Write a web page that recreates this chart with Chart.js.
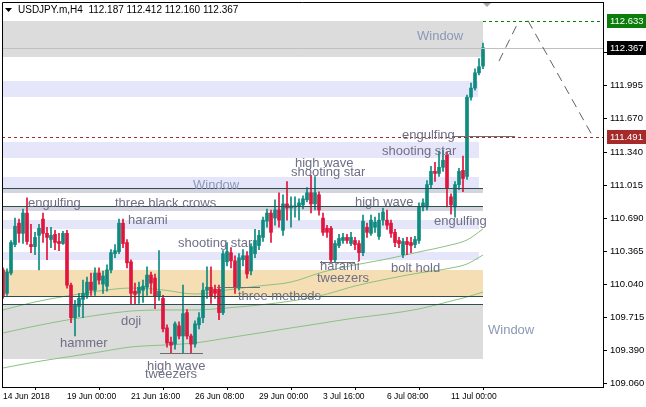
<!DOCTYPE html>
<html>
<head>
<meta charset="utf-8">
<script src="https://cdn.jsdelivr.net/npm/chart.js@4.4.1/dist/chart.umd.min.js"></script>
<style>
  html, body { margin: 0; padding: 0; background: #fff; overflow: hidden; }
  canvas { display: block; }
</style>
</head>
<body>
<canvas id="chart" width="646" height="407"></canvas>
<script>
// USDJPY.m H4 candles, index 0 = 14 Jun 2018
var opens = [110.18,109.95,110.15,110.43,110.64,110.54,110.74,110.43,110.41,110.52,
  110.68,110.54,110.48,110.53,110.46,110.44,110.54,110.03,109.71,109.82,
  109.89,109.93,110.06,109.98,110.15,110.04,110.02,110.18,110.34,110.36,
  110.64,110.45,110.26,109.97,109.95,109.98,110.01,110.13,110.10,109.92,
  109.90,109.61,109.47,109.45,109.63,109.53,109.76,109.53,109.45,109.64,
  109.71,109.98,110.01,109.99,109.99,109.76,110.26,110.35,110.27,110.01,
  110.28,110.32,110.17,110.34,110.42,110.50,110.66,110.74,110.69,110.77,
  110.57,110.83,110.79,110.80,110.81,110.82,110.87,110.94,110.83,110.92,
  110.69,110.59,110.59,110.28,110.42,110.47,110.50,110.44,110.47,110.44,
  110.35,110.60,110.54,110.60,110.51,110.67,110.67,110.64,110.55,110.47,
  110.33,110.46,110.45,110.43,110.47,110.80,110.80,111.02,111.15,111.13,
  111.19,111.31,110.90,110.80,111.02,111.16,111.10,111.88,111.97,112.12,
  112.187];
var highs = [110.20,110.19,110.47,110.69,110.68,110.78,110.89,110.63,110.55,110.63,
  110.74,110.60,110.60,110.57,110.54,110.56,110.57,110.05,109.88,109.95,
  110.08,110.11,110.15,110.20,110.20,110.17,110.23,110.38,110.43,110.68,
  110.68,110.48,110.28,110.05,110.06,110.08,110.21,110.16,110.14,110.37,
  109.93,109.64,109.52,109.67,109.67,110.03,109.79,109.55,109.68,109.76,
  110.05,110.21,110.21,110.03,110.03,110.37,110.45,110.40,110.32,110.34,
  110.38,110.36,110.44,110.58,110.57,110.70,110.78,110.77,110.87,110.94,
  110.92,111.05,110.90,110.90,110.88,110.91,110.99,111.11,111.10,110.95,
  110.74,110.62,110.61,110.47,110.53,110.54,110.53,110.55,110.50,110.47,
  110.72,110.64,110.72,110.70,110.74,110.79,110.77,110.67,110.58,110.50,
  110.49,110.50,110.50,110.51,110.84,110.88,111.06,111.20,111.24,111.35,
  111.36,111.34,110.93,111.05,111.18,111.30,111.90,112.02,112.16,112.26,
  112.412];
var lows = [109.90,109.93,110.13,110.41,110.45,110.44,110.43,110.35,110.33,110.18,
  110.45,110.28,110.40,110.38,110.37,110.43,110.00,109.66,109.53,109.72,
  109.71,109.90,109.93,109.93,110.04,109.95,109.97,110.15,110.30,110.34,
  110.40,110.20,109.84,109.84,109.85,109.86,109.93,109.95,109.80,109.88,
  109.57,109.42,109.36,109.40,109.50,109.36,109.50,109.36,109.42,109.60,
  109.66,109.90,109.85,109.90,109.69,109.74,110.22,110.20,109.95,109.98,
  110.22,110.10,110.13,110.30,110.38,110.46,110.60,110.45,110.62,110.60,
  110.52,110.67,110.60,110.70,110.67,110.78,110.85,110.74,110.77,110.72,
  110.52,110.50,110.26,110.26,110.40,110.44,110.44,110.42,110.38,110.27,
  110.32,110.50,110.52,110.55,110.48,110.62,110.58,110.50,110.41,110.40,
  110.30,110.33,110.35,110.40,110.44,110.76,110.77,110.99,111.05,111.10,
  111.15,110.80,110.73,110.70,110.97,110.95,111.07,111.85,111.95,112.10,
  112.160];
var closes = [109.93,110.16,110.45,110.61,110.54,110.74,110.46,110.41,110.50,110.59,
  110.54,110.50,110.52,110.45,110.44,110.54,110.03,109.71,109.83,109.90,
  109.95,110.06,109.98,110.15,110.08,110.12,110.18,110.35,110.37,110.64,
  110.44,110.25,109.95,109.94,110.01,110.02,110.13,110.05,109.92,109.97,
  109.60,109.46,109.44,109.65,109.53,109.75,109.53,109.45,109.65,109.71,
  109.98,110.01,109.92,109.95,109.76,110.34,110.36,110.27,110.01,110.30,
  110.32,110.14,110.41,110.47,110.52,110.67,110.74,110.55,110.77,110.67,
  110.83,110.79,110.81,110.81,110.84,110.88,110.94,110.83,110.94,110.77,
  110.55,110.55,110.28,110.44,110.49,110.50,110.47,110.50,110.43,110.35,
  110.66,110.55,110.67,110.65,110.67,110.75,110.62,110.54,110.45,110.44,
  110.46,110.43,110.42,110.48,110.80,110.84,111.02,111.15,111.13,111.19,
  111.26,110.99,110.82,111.02,111.15,111.08,111.88,111.97,112.12,112.18,
  112.367];

// moving averages, read at these candle indexes
var maIdx  = [0, 8, 16, 24, 32, 40, 48, 56, 64, 72, 80, 88, 96, 104, 112, 116, 120];
var maFast = [109.786,109.865,109.924,109.973,110.002,109.983,109.943,109.983,110.022,110.061,
  110.160,110.229,110.288,110.357,110.426,110.475,110.583];
var maMid  = [109.559,109.628,109.687,109.737,109.776,109.786,109.786,109.806,109.835,109.874,
  109.933,110.022,110.091,110.150,110.199,110.239,110.327];
var maSlow = [109.215,109.274,109.323,109.372,109.422,109.441,109.461,109.510,109.559,109.609,
  109.658,109.707,109.746,109.796,109.874,109.914,109.963];

var priceTicks = [109.060,109.390,109.715,110.040,110.365,110.690,111.015,111.340,111.670,111.995,112.320];
var dateIdx    = [0, 16, 32, 48, 64, 80, 96, 112];
var dateLabels = ['14 Jun 2018','19 Jun 00:00','21 Jun 16:00','26 Jun 08:00','29 Jun 00:00','3 Jul 16:00','6 Jul 08:00','11 Jul 00:00'];

// zones: kind, upper price, lower price, last index
var zones = [
  ['window', 112.633, 112.279, 120],
  ['lav', 112.040, 111.882, 118.8],
  ['lav', 111.439, 111.282, 119],
  ['lav', 111.095, 110.937, 119],
  ['gap', 110.984, 110.934, 120],
  ['gap', 110.810, 110.760, 120],
  ['lav', 110.672, 110.583, 119],
  ['lav', 110.357, 110.278, 119],
  ['orange', 110.180, 109.924, 120],
  ['window', 109.845, 109.304, 120]
];
var supportLines = [110.984, 110.810, 109.924, 109.845];
var bidPrice = 112.367, highLevel = 112.633, lowLevel = 111.491;

// pattern names: text, start index, price
var patterns = [
  ['engulfing', 6.25, 110.839], ['three black crows', 28, 110.839], ['harami', 31.25, 110.672],
  ['shooting star', 43.75, 110.445], ['three methods', 58.75, 109.924], ['hammer', 14.25, 109.461],
  ['doji', 29.5, 109.677], ['high wave', 36, 109.235], ['tweezers', 35.5, 109.156],
  ['harami', 79.25, 110.219], ['tweezers', 78.5, 110.101], ['bolt hold', 97, 110.199],
  ['high wave', 73, 111.233], ['shooting star', 72, 111.144], ['high wave', 88, 110.849],
  ['engulfing', 107.75, 110.662], ['shooting star', 94.75, 111.351], ['engulfing', 99.75, 111.508]
];
var windows = [['Window', 103.5, 112.483], ['Window', 47.5, 111.016], ['Window', 121.25, 109.589]];
// pattern marker lines: from index, to index, price
var markers = [[39.25, 50, 109.363], [53.5, 64.25, 110.012], [79.25, 88, 110.258], [112.25, 128, 111.498]];
// projected path
var projection = [[124, 112.236], [129, 112.633], null, [131.25, 112.633], [147.5, 111.49]];

var UP = '#0e8a80', DOWN = '#e0143c';
var bodies = [], wicks = [], colors = [];
for (var i = 0; i < opens.length; i++) {
  bodies.push({ x: i, y: [opens[i], closes[i]] });
  wicks.push({ x: i, y: [lows[i], highs[i]] });
  colors.push(closes[i] >= opens[i] ? UP : DOWN);
}
function maPoints(arr) { return maIdx.map(function (v, k) { return { x: v, y: arr[k] }; }); }

var axisFont = "'Liberation Sans', Arial, sans-serif";
var zoneColor = { window: '#dcdcdc', lav: '#e6e6fa', gap: '#d4d4e0', orange: '#f5deb3' };

var deco = {
  id: 'deco',
  beforeDatasetsDraw: function (chart) {
    var ctx = chart.ctx, a = chart.chartArea, x = chart.scales.x, y = chart.scales.y;
    ctx.save();
    ctx.beginPath(); ctx.rect(a.left, a.top, a.right - a.left, a.bottom - a.top); ctx.clip();
    zones.forEach(function (z) {
      var y0 = y.getPixelForValue(z[1]), y1 = y.getPixelForValue(z[2]);
      var x1 = x.getPixelForValue(z[3]);
      ctx.fillStyle = zoneColor[z[0]];
      ctx.fillRect(a.left, Math.round(y0), x1 - a.left, Math.round(y1) - Math.round(y0));
    });
    ctx.restore();
  },
  afterDatasetsDraw: function (chart) {
    var ctx = chart.ctx, a = chart.chartArea, x = chart.scales.x, y = chart.scales.y;
    var py = function (v) { return Math.round(y.getPixelForValue(v)) + 0.5; };
    ctx.save();
    ctx.beginPath(); ctx.rect(a.left, a.top, a.right - a.left, a.bottom - a.top); ctx.clip();
    ctx.lineWidth = 1;

    // current bid line
    ctx.strokeStyle = '#c0c0c0';
    ctx.beginPath(); ctx.moveTo(a.left, py(bidPrice)); ctx.lineTo(a.right, py(bidPrice)); ctx.stroke();

    // support lines
    ctx.strokeStyle = '#2f4f4f';
    supportLines.forEach(function (v) {
      ctx.beginPath(); ctx.moveTo(a.left, py(v)); ctx.lineTo(x.getPixelForValue(120), py(v)); ctx.stroke();
    });

    // marker lines
    ctx.strokeStyle = '#6e6e6e';
    markers.forEach(function (m) {
      ctx.beginPath(); ctx.moveTo(x.getPixelForValue(m[0]), py(m[2])); ctx.lineTo(x.getPixelForValue(m[1]), py(m[2])); ctx.stroke();
    });

    // dashed levels
    ctx.setLineDash([3, 3]);
    ctx.strokeStyle = '#a52a2a';
    ctx.beginPath(); ctx.moveTo(a.left, py(lowLevel)); ctx.lineTo(a.right, py(lowLevel)); ctx.stroke();
    ctx.strokeStyle = '#008000';
    ctx.beginPath(); ctx.moveTo(x.getPixelForValue(120), py(highLevel)); ctx.lineTo(a.right, py(highLevel)); ctx.stroke();

    // projection
    ctx.setLineDash([9, 6]);
    ctx.strokeStyle = '#606060';
    ctx.beginPath();
    var pen = false;
    projection.forEach(function (p) {
      if (!p) { pen = false; return; }
      var px = x.getPixelForValue(p[0]), pyv = y.getPixelForValue(p[1]);
      if (pen) ctx.lineTo(px, pyv); else ctx.moveTo(px, pyv);
      pen = true;
    });
    ctx.stroke();
    ctx.setLineDash([]);

    // texts
    ctx.textBaseline = 'middle';
    ctx.textAlign = 'left';
    ctx.font = "13px 'Liberation Sans', Arial, sans-serif";
    ctx.fillStyle = '#6f6f86';
    patterns.forEach(function (p) {
      ctx.fillText(p[0], x.getPixelForValue(p[1]), y.getPixelForValue(p[2]));
    });
    ctx.fillStyle = '#8a9ab6';
    windows.forEach(function (p) {
      ctx.fillText(p[0], x.getPixelForValue(p[1]), y.getPixelForValue(p[2]));
    });
    ctx.restore();

    // frame
    ctx.save();
    ctx.strokeStyle = '#000';
    ctx.lineWidth = 1;
    ctx.beginPath();
    ctx.moveTo(a.left + 0.5, a.bottom); ctx.lineTo(a.left + 0.5, a.top + 0.5); ctx.lineTo(a.right, a.top + 0.5);
    ctx.stroke();

    // title
    ctx.fillStyle = '#000';
    ctx.beginPath(); ctx.moveTo(5, 8); ctx.lineTo(12, 8); ctx.lineTo(8.5, 12); ctx.closePath(); ctx.fill();
    ctx.font = "10px " + axisFont;
    ctx.textBaseline = 'middle';
    ctx.textAlign = 'left';
    ctx.fillText('USDJPY.m,H4  ' + opens[120].toFixed(3) + ' ' + highs[120].toFixed(3) + ' ' +
      lows[120].toFixed(3) + ' ' + closes[120].toFixed(3), 18, 10.5);

    // shift marker
    ctx.fillStyle = '#a8a8a8';
    var sx = x.getPixelForValue(121);
    ctx.beginPath(); ctx.moveTo(sx - 4, 3); ctx.lineTo(sx + 4, 3); ctx.lineTo(sx, 7); ctx.closePath(); ctx.fill();

    // price boxes on the axis
    var boxes = [[highLevel, '#0a7d0a', '#fff'], [bidPrice, '#000', '#fff'], [lowLevel, '#a52a2a', '#fff']];
    ctx.font = "9.5px " + axisFont;
    boxes.forEach(function (b) {
      var cy = Math.round(y.getPixelForValue(b[0]));
      ctx.fillStyle = b[1];
      ctx.fillRect(a.right + 4, cy - 7, 39, 14);
      ctx.fillStyle = b[2];
      ctx.fillText(b[0].toFixed(3), a.right + 7, cy + 0.5);
    });
    ctx.restore();
  }
};

new Chart(document.getElementById('chart'), {
  data: {
    datasets: [
      { type: 'bar', data: bodies, backgroundColor: colors, barThickness: 3, minBarLength: 1, grouped: false, order: 0 },
      { type: 'bar', data: wicks, backgroundColor: colors, barThickness: 1, grouped: false, order: 1 },
      { type: 'line', data: maPoints(maFast), borderColor: '#8cc283', borderWidth: 1, pointRadius: 0, cubicInterpolationMode: 'monotone', order: 2 },
      { type: 'line', data: maPoints(maMid), borderColor: '#8cc283', borderWidth: 1, pointRadius: 0, cubicInterpolationMode: 'monotone', order: 2 },
      { type: 'line', data: maPoints(maSlow), borderColor: '#8cc283', borderWidth: 1, pointRadius: 0, cubicInterpolationMode: 'monotone', order: 2 }
    ]
  },
  options: {
    responsive: false,
    animation: false,
    events: [],
    layout: { padding: { left: 2, top: 2, right: 0, bottom: 0 } },
    plugins: { legend: { display: false }, tooltip: { enabled: false } },
    scales: {
      x: {
        type: 'linear', min: -0.25, max: 150, offset: false,
        afterFit: function (s) { s.height = 20; s.paddingLeft = 0; s.paddingRight = 0; },
        afterBuildTicks: function (s) { s.ticks = dateIdx.map(function (v) { return { value: v }; }); },
        ticks: {
          callback: function (v, k) { return dateLabels[k]; },
          align: 'start', maxRotation: 0, autoSkip: false, padding: 2, color: '#000',
          font: { family: axisFont, size: 8.5 }
        },
        grid: { drawOnChartArea: false, tickLength: 3, color: '#000' },
        border: { color: '#000' }
      },
      y: {
        position: 'right', min: 109.028, max: 112.817,
        afterFit: function (s) { s.width = 43; s.paddingTop = 0; s.paddingBottom = 0; },
        afterBuildTicks: function (s) { s.ticks = priceTicks.map(function (v) { return { value: v }; }); },
        ticks: {
          callback: function (v) { return v.toFixed(3); },
          crossAlign: 'near', padding: 3, color: '#000',
          font: { family: axisFont, size: 9.5 }
        },
        grid: { drawOnChartArea: false, tickLength: 4, color: '#000' },
        border: { color: '#000' }
      }
    }
  },
  plugins: [deco]
});
</script>
</body>
</html>
